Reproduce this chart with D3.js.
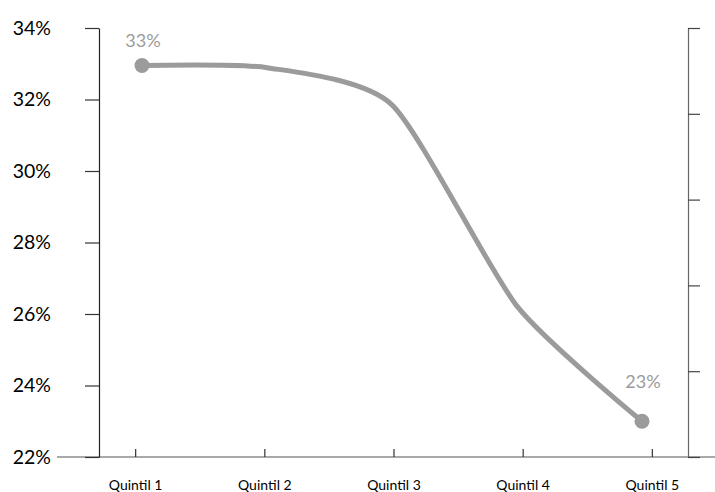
<!DOCTYPE html>
<html><head><meta charset="utf-8">
<script src="https://cdn.jsdelivr.net/npm/d3@7"></script>
<style>
html,body{margin:0;padding:0;background:#fff;}
svg{display:block;font-family:Lato,"Open Sans",sans-serif;}
</style></head>
<body><svg id="c" width="715" height="492"></svg>
<script>
(function(){
const categories = ["Quintil 1","Quintil 2","Quintil 3","Quintil 4","Quintil 5"];
const values = [32.95, 32.89, 31.85, 26.22, 23.0];
const yTicks = [22, 24, 26, 28, 30, 32, 34];
const labelIdx = [0, 4];

const svg = d3.select("#c");
const W = 715, H = 492;
const mLeft = 99, mRight = 688, mTop = 28, mBottom = 457;

const y = d3.scaleLinear().domain([22, 34]).range([mBottom, mTop]);
const xAxisScale = d3.scalePoint().domain(categories).range([mLeft, mRight]).padding(0.28);
const xLine = d3.scalePoint().domain(categories).range([142, 642]);

// bottom baseline
svg.append("line").attr("x1", 57).attr("x2", W).attr("y1", mBottom).attr("y2", mBottom)
  .attr("stroke", "#555").attr("stroke-width", 1.2);

// left axis
const ya = svg.append("g").attr("transform", `translate(${mLeft},0)`)
  .call(d3.axisLeft(y).tickValues(yTicks).tickFormat(d => d + "%").tickSize(14).tickPadding(34).tickSizeOuter(0));
ya.select(".domain").attr("stroke", "#222").attr("stroke-width", 1.2);
ya.selectAll(".tick line").attr("stroke", "#333").attr("stroke-width", 1.2);
ya.selectAll(".tick text").attr("font-size", 19.5).attr("fill", "#000").attr("font-family", "Lato, sans-serif");

// right axis (no labels)
const yr = d3.scaleLinear().domain([0, 5]).range([mBottom, mTop]);
const ra = svg.append("g").attr("transform", `translate(${mRight},0)`)
  .call(d3.axisRight(yr).ticks(5).tickFormat("").tickSize(12).tickSizeOuter(0));
ra.select(".domain").attr("stroke", "#666").attr("stroke-width", 1.2);
ra.selectAll(".tick line").attr("stroke", "#444").attr("stroke-width", 1.2);

// bottom axis
const xa = svg.append("g").attr("transform", `translate(0,${mBottom})`)
  .call(d3.axisBottom(xAxisScale).tickSize(-8).tickPadding(23).tickSizeOuter(0));
xa.select(".domain").remove();
xa.selectAll(".tick line").attr("stroke", "#333").attr("stroke-width", 1.2);
xa.selectAll(".tick text").attr("font-size", 14).attr("fill", "#000").attr("font-family", "Lato, sans-serif");

// line
const line = d3.line().x((d, i) => xLine(categories[i])).y(d => y(d)).curve(d3.curveCardinal.tension(0.35));
svg.append("path").datum(values).attr("d", line).attr("fill", "none")
  .attr("stroke", "#9b9b9b").attr("stroke-width", 5).attr("stroke-linejoin", "round");

// end points
svg.selectAll("circle.pt").data(labelIdx).enter().append("circle")
  .attr("cx", i => xLine(categories[i])).attr("cy", i => y(values[i])).attr("r", 7.5)
  .attr("fill", "#9b9b9b");

const offs = [-19, -33];
svg.selectAll("text.lbl").data(labelIdx).enter().append("text")
  .attr("x", i => xLine(categories[i]) + 1).attr("y", (i, k) => y(values[i]) + offs[k])
  .attr("text-anchor", "middle").attr("font-size", 18).attr("fill", "#9b9b9b")
  .text(i => d3.format(".0f")(values[i]) + "%");
})();
</script></body></html>
